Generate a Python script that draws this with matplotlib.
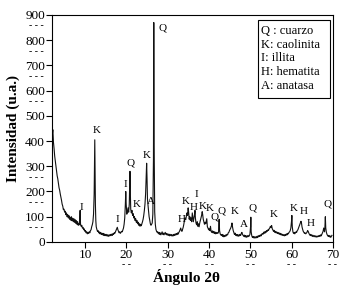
"""XRD pattern of a clay sample with mineral phase labels."""

import matplotlib

matplotlib.use("Agg")
import matplotlib.pyplot as plt
from matplotlib.patches import Rectangle

plt.rcParams["font.family"] = ["Liberation Serif", "DejaVu Serif"]

# Diffractogram (2-theta in degrees, counts)
two_theta = [
    2.0, 2.1, 2.2, 2.35, 2.5, 2.65, 2.8, 2.95, 3.1, 3.25, 3.4, 3.55, 3.7, 3.85,
    4.0, 4.15, 4.3, 4.45, 4.6, 4.75, 4.9, 5.05, 5.2, 5.35, 5.5, 5.65, 5.8, 5.95,
    6.1, 6.25, 6.4, 6.55, 6.7, 6.85, 7.0, 7.15, 7.3, 7.45, 7.6, 7.75, 7.9, 8.05,
    8.2, 8.35, 8.5, 8.65, 8.8, 8.9, 9.05, 9.2, 9.35, 9.5, 9.65, 9.8, 9.95, 10.1,
    10.25, 10.4, 10.55, 10.7, 10.85, 11.0, 11.15, 11.3, 11.45, 11.6, 11.75,
    11.9, 12.05, 12.2, 12.3, 12.35, 12.4, 12.5, 12.6, 12.7, 12.85, 13.0, 13.15,
    13.3, 13.45, 13.6, 13.75, 13.9, 14.05, 14.2, 14.35, 14.5, 14.65, 14.8,
    14.95, 15.1, 15.25, 15.4, 15.55, 15.7, 15.85, 16.0, 16.15, 16.3, 16.45,
    16.6, 16.75, 16.9, 17.05, 17.2, 17.35, 17.5, 17.65, 17.8, 17.95, 18.1,
    18.25, 18.4, 18.55, 18.7, 18.85, 19.0, 19.15, 19.3, 19.45, 19.6, 19.75,
    19.85, 19.95, 20.1, 20.25, 20.4, 20.55, 20.7, 20.8, 20.87, 20.95, 21.05,
    21.2, 21.35, 21.5, 21.65, 21.8, 21.95, 22.1, 22.25, 22.4, 22.55, 22.7,
    22.85, 23.0, 23.15, 23.3, 23.45, 23.6, 23.75, 23.9, 24.05, 24.2, 24.35,
    24.5, 24.65, 24.8, 24.9, 25.0, 25.1, 25.25, 25.35, 25.5, 25.65, 25.8,
    25.95, 26.1, 26.25, 26.4, 26.55, 26.63, 26.72, 26.85, 27.0, 27.15, 27.3,
    27.45, 27.6, 27.75, 27.9, 28.05, 28.2, 28.35, 28.5, 28.65, 28.8, 28.95,
    29.1, 29.25, 29.4, 29.55, 29.7, 29.85, 30.0, 30.15, 30.3, 30.45, 30.6,
    30.75, 30.9, 31.05, 31.2, 31.35, 31.5, 31.65, 31.8, 31.95, 32.1, 32.25,
    32.4, 32.55, 32.7, 32.85, 33.0, 33.15, 33.3, 33.45, 33.6, 33.75, 33.9,
    34.05, 34.2, 34.35, 34.5, 34.65, 34.8, 34.95, 35.05, 35.2, 35.35, 35.5,
    35.65, 35.8, 35.95, 36.05, 36.2, 36.35, 36.5, 36.6, 36.7, 36.85, 37.0,
    37.15, 37.3, 37.45, 37.6, 37.75, 37.9, 38.05, 38.2, 38.35, 38.45, 38.6,
    38.75, 38.9, 39.05, 39.2, 39.35, 39.45, 39.6, 39.75, 39.9, 40.05, 40.2,
    40.35, 40.5, 40.65, 40.8, 40.95, 41.1, 41.25, 41.4, 41.55, 41.7, 41.85,
    42.0, 42.15, 42.3, 42.45, 42.55, 42.7, 42.85, 43.0, 43.15, 43.3, 43.45,
    43.6, 43.75, 43.9, 44.05, 44.2, 44.35, 44.5, 44.65, 44.8, 44.95, 45.1,
    45.25, 45.4, 45.55, 45.7, 45.85, 46.0, 46.15, 46.3, 46.45, 46.6, 46.75,
    46.9, 47.05, 47.2, 47.35, 47.5, 47.65, 47.8, 47.95, 48.1, 48.25, 48.4,
    48.55, 48.7, 48.85, 49.0, 49.15, 49.3, 49.45, 49.6, 49.75, 49.9, 50.05,
    50.12, 50.2, 50.35, 50.5, 50.65, 50.8, 50.95, 51.1, 51.25, 51.4, 51.55,
    51.7, 51.85, 52.0, 52.15, 52.3, 52.45, 52.6, 52.75, 52.9, 53.05, 53.2,
    53.35, 53.5, 53.65, 53.8, 53.95, 54.1, 54.25, 54.4, 54.55, 54.7, 54.85,
    55.0, 55.15, 55.3, 55.45, 55.6, 55.75, 55.9, 56.05, 56.2, 56.35, 56.5,
    56.65, 56.8, 56.95, 57.1, 57.25, 57.4, 57.55, 57.7, 57.85, 58.0, 58.15,
    58.3, 58.45, 58.6, 58.75, 58.9, 59.05, 59.2, 59.35, 59.5, 59.65, 59.8,
    59.95, 60.05, 60.15, 60.3, 60.45, 60.6, 60.75, 60.9, 61.05, 61.2, 61.35,
    61.5, 61.65, 61.8, 61.95, 62.1, 62.25, 62.35, 62.5, 62.65, 62.8, 62.95,
    63.1, 63.25, 63.4, 63.55, 63.7, 63.85, 64.0, 64.15, 64.3, 64.45, 64.6,
    64.75, 64.9, 65.05, 65.2, 65.35, 65.5, 65.65, 65.8, 65.95, 66.1, 66.25,
    66.4, 66.55, 66.7, 66.85, 67.0, 67.15, 67.3, 67.45, 67.6, 67.75, 67.85,
    67.95, 68.05, 68.15, 68.25, 68.4, 68.55, 68.7, 68.85, 69.0, 69.15, 69.3,
    69.45, 69.6, 69.75,
]
intensity = [
    470, 430, 445, 395, 370, 340, 320, 300, 280, 262, 250, 232, 215, 205,
    190, 178, 165, 150, 142, 128, 130, 118, 122, 108, 115, 100, 108, 95,
    104, 90, 98, 86, 100, 84, 94, 80, 92, 78, 88, 74, 84, 70,
    80, 66, 72, 68, 125, 70, 62, 66, 55, 58, 48, 52, 42, 45,
    36, 40, 32, 38, 34, 40, 36, 45, 48, 60, 68,
    80, 110, 190, 340, 405, 330, 150, 85, 60, 50, 42, 45,
    36, 40, 32, 38, 30, 35, 28, 34, 26, 32, 25,
    30, 24, 30, 23, 28, 22, 28, 24, 30, 25, 31,
    26, 33, 30, 36, 34, 40, 45, 52, 58, 48, 42,
    36, 40, 34, 38, 42, 40, 48, 55, 70, 95, 150,
    200, 150, 110, 120, 135, 118, 150, 230, 280, 200, 130,
    115, 125, 105, 112, 95, 100, 85, 92, 78, 85, 72,
    78, 66, 72, 62, 70, 64, 72, 80, 90, 105, 125,
    150, 190, 270, 312, 250, 170, 140, 125, 100, 85, 72,
    66, 70, 75, 110, 330, 870, 380, 120, 70, 50, 42,
    38, 40, 32, 38, 30, 36, 28, 34, 40, 30, 35,
    28, 33, 38, 30, 34, 27, 32, 26, 31, 24, 30,
    25, 29, 23, 28, 24, 30, 26, 32, 27, 33, 29,
    36, 31, 38, 42, 48, 55, 45, 42, 50, 58, 70,
    85, 95, 88, 100, 115, 105, 135, 120, 90, 100, 85,
    95, 80, 115, 100, 80, 95, 110, 125, 95, 75, 68,
    80, 62, 72, 60, 75, 85, 95, 105, 120, 110, 90,
    80, 70, 78, 72, 85, 92, 60, 55, 48, 52, 45,
    62, 42, 38, 44, 36, 42, 34, 40, 32, 38, 33,
    36, 34, 40, 90, 45, 32, 28, 25, 30, 22, 28,
    20, 26, 22, 28, 24, 30, 28, 36, 38, 45, 50,
    55, 62, 75, 58, 45, 38, 30, 35, 26, 30, 24,
    29, 22, 28, 24, 30, 26, 33, 38, 30, 26, 22,
    27, 20, 25, 18, 24, 20, 26, 21, 25, 30, 60,
    98, 40, 24, 18, 22, 16, 21, 15, 20, 16, 22,
    17, 24, 20, 26, 22, 28, 24, 30, 34, 30, 36,
    40, 34, 42, 38, 45, 42, 48, 46, 52, 55, 62,
    58, 65, 52, 48, 42, 46, 38, 42, 36, 40, 34,
    38, 32, 36, 30, 34, 28, 32, 26, 30, 25, 28,
    24, 30, 26, 32, 28, 34, 32, 38, 40, 45, 55,
    80, 105, 60, 40, 34, 38, 32, 36, 40, 38, 45,
    48, 55, 62, 68, 75, 82, 78, 60, 50, 42, 38,
    34, 36, 32, 35, 38, 45, 42, 35, 30, 26, 30,
    24, 28, 22, 26, 21, 25, 20, 24, 19, 23, 20,
    24, 21, 26, 22, 28, 24, 30, 35, 42, 55, 48,
    40, 60, 100, 55, 38, 30, 25, 22, 26, 20, 24,
    18, 22, 26,
]

# Phase labels: letter, 2-theta and intensity where the letter sits
peak_letters = ["I", "K", "I", "I", "Q", "K", "K", "A", "Q", "H", "K", "H", "I",
                "K", "K", "Q", "Q", "K", "A", "Q", "K", "K", "H", "H", "Q"]
peak_x = [9.0, 12.7, 17.9, 19.8, 21.0, 22.6, 24.9, 26.0, 28.8, 33.4, 34.4,
          36.2, 37.0, 38.5, 40.2, 41.3, 43.0, 46.3, 48.5, 50.6, 55.6, 60.5,
          62.8, 64.6, 68.8]
peak_y = [138, 443, 88, 228, 314, 150, 344, 162, 848, 90, 162, 137, 188,
          139, 131, 97, 121, 119, 69, 133, 109, 131, 119, 75, 152]

legend_lines = ["Q : cuarzo", "K: caolinita", "I: illita", "H: hematita",
                "A: anatasa"]

y_ticks = [0, 100, 200, 300, 400, 500, 600, 700, 800, 900]
x_ticks = [10, 20, 30, 40, 50, 60, 70]
# tick labels that carry a stray dash mark underneath in the original
y_dashed = [100, 200, 300, 600, 700, 800, 900]
x_dashed = [20, 30, 40, 50, 60, 70]

fig = plt.figure(figsize=(3.5, 2.88), dpi=100)
ax = fig.add_axes([0.1486, 0.16, 0.8028, 0.788])

ax.plot(two_theta, intensity, color="#111111", lw=0.8)

for letter, px, py in zip(peak_letters, peak_x, peak_y):
    ax.text(px, py, letter, fontsize=8, ha="center", va="center")

ax.set_xlim(2, 70)
ax.set_ylim(0, 900)
ax.set_xticks(x_ticks)
ax.set_yticks(y_ticks)
ax.tick_params(direction="out", length=4, width=0.8, labelsize=9.5, pad=1)
for spine in ax.spines.values():
    spine.set_linewidth(0.8)

for t in y_dashed:
    ax.annotate("- - -", xy=(0, t), xycoords=("axes fraction", "data"),
                xytext=(-16, -11), textcoords="offset pixels",
                ha="center", va="center", fontsize=7)
for t in x_dashed:
    ax.annotate("- -", xy=(t, 0), xycoords=("data", "axes fraction"),
                xytext=(0, -23), textcoords="offset pixels",
                ha="center", va="center", fontsize=7)

ax.set_ylabel("Intensidad (u.a.)", fontsize=11, fontweight="bold")
ax.set_xlabel("Ángulo 2θ", fontsize=11, fontweight="bold")
ax.yaxis.set_label_coords(-0.115, 0.5)
ax.xaxis.set_label_coords(0.48, -0.12)

# Phase legend drawn as a plain box with lines of text
ax.add_patch(Rectangle((0.733, 0.634), 0.256, 0.344, transform=ax.transAxes,
                       fill=False, lw=0.8, ec="black"))
for i, line in enumerate(legend_lines):
    ax.text(0.744, 0.93 - i * 0.0605, line, transform=ax.transAxes,
            fontsize=9, ha="left", va="center")

fig.savefig("out.png", dpi=100)
plt.close(fig)
